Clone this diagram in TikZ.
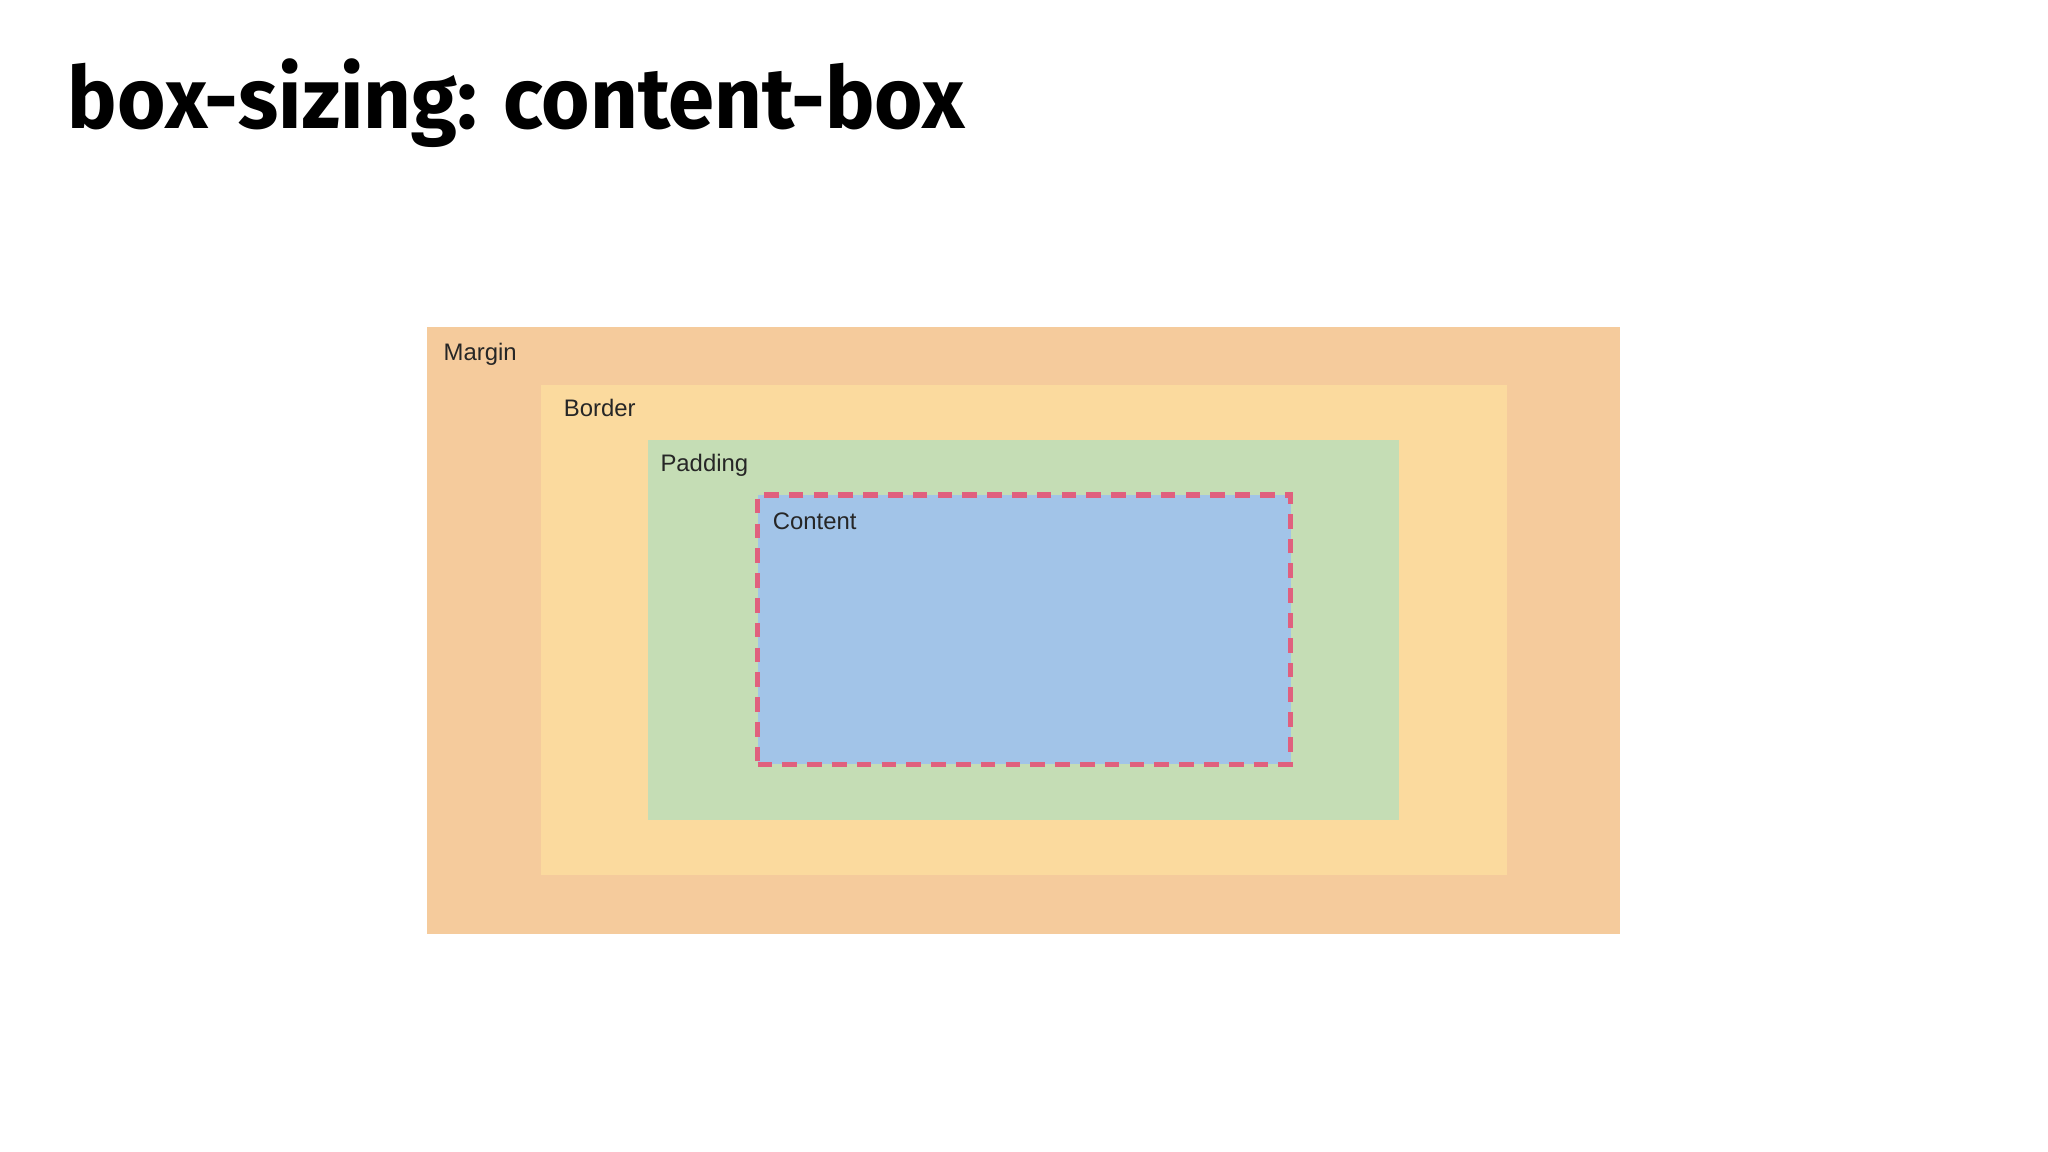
\documentclass[tikz,border=0pt]{standalone}
\usepackage{fontspec}
\setmainfont{Liberation Sans}
\newfontfamily\titlefont{Fira Sans}
\usepackage{graphicx}
\usetikzlibrary{positioning}
\definecolor{margincol}{HTML}{F5CB9C}
\definecolor{bordercol}{HTML}{FBDA9E}
\definecolor{paddingcol}{HTML}{C5DDB5}
\definecolor{contentcol}{HTML}{A2C4E8}
\definecolor{dashcol}{HTML}{E0607E}
\tikzset{
  layer/.style={inner sep=0pt, outer sep=0pt, anchor=north west},
  tag/.style={anchor=west, inner sep=0pt, font=\fontsize{5.2}{6}\selectfont, text=black!85}
}
\begin{document}
\begin{tikzpicture}[x=0.01cm, y=-0.01cm]
\useasboundingbox (0,0) rectangle (1568,882);

\node[layer] (title) at (52,45) {\resizebox*{6.86cm}{0.68cm}{\titlefont\bfseries box-sizing: content-box}};

\node[layer, fill=margincol, minimum width=9.13cm, minimum height=4.65cm] (margin) at (327,250) {};
\node[layer, fill=bordercol, minimum width=7.39cm, minimum height=3.75cm] (border) at (414,295) {};
\node[layer, fill=paddingcol, minimum width=5.75cm, minimum height=2.91cm] (padding) at (496,337) {};
\node[layer, fill=contentcol, draw=dashcol, line width=1.1pt, dash pattern=on 3.2pt off 2.2pt,
  minimum width=4.08cm, minimum height=2.06cm] (content) at (580,379) {};

\node[tag] (margintag) at (339,271) {Margin};
\node[tag] (bordertag) at (431,312) {Border};
\node[tag] (paddingtag) at (505,356) {Padding};
\node[tag] (contenttag) at (591,399) {Content};

\end{tikzpicture}
\end{document}
